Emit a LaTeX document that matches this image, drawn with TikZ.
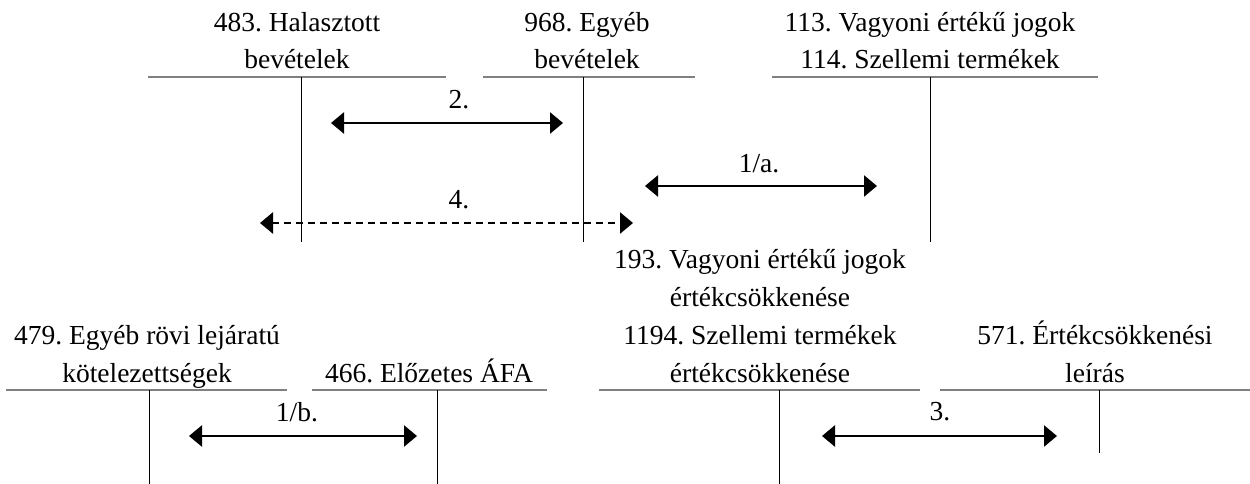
\documentclass[tikz,border=0pt]{standalone}
\usepackage{fontspec}
\setmainfont{Liberation Serif}
\usetikzlibrary{arrows.meta}
\frenchspacing
\begin{document}
\begin{tikzpicture}[x=1pt,y=-1pt,
  title/.style={anchor=base,inner sep=0pt,font=\fontsize{27.5}{30}\selectfont},
  lbl/.style={inner sep=0pt,font=\fontsize{27.5}{30}\selectfont},
  hline/.style={draw=black!50,line width=1.8pt},
  vline/.style={draw=black,line width=0.9pt},
  tip/.style={},
  arr/.style={line width=2.6pt,{Triangle[length=13pt,width=21pt]}-{Triangle[length=13pt,width=21pt]}},
  darr/.style={arr,dash pattern=on 7pt off 5pt}]
\useasboundingbox (0,0) rectangle (1250,484);
% ---------- top row titles ----------
\node[title] (t1a) at (297,32) {483. Halasztott};
\node[title] (t1b) at (297,69) {bevételek};
\node[title] (t2a) at (587,32) {968. Egyéb};
\node[title] (t2b) at (587,69) {bevételek};
\node[title] (t3a) at (930,32) {113. Vagyoni értékű jogok};
\node[title] (t3b) at (930,69) {114. Szellemi termékek};
% ---------- top row T-accounts ----------
\draw[hline] (148,77) -- (446,77);
\draw[vline] (301,77) -- (301,242);
\draw[hline] (483,77) -- (695,77);
\draw[vline] (583,77) -- (583,242);
\draw[hline] (772,77) -- (1098,77);
\draw[vline] (930,77) -- (930,242);
% ---------- bottom row titles ----------
\node[title] (b1a) at (147,344) {479. Egyéb rövi lejáratú};
\node[title] (b1b) at (147,382) {kötelezettségek};
\node[title] (b2a) at (429,382) {466. Előzetes ÁFA};
\node[title] (b3a) at (760,268) {193. Vagyoni értékű jogok};
\node[title] (b3b) at (760,306) {értékcsökkenése};
\node[title] (b3c) at (760,344) {1194. Szellemi termékek};
\node[title] (b3d) at (760,382) {értékcsökkenése};
\node[title] (b4a) at (1095,344) {571. Értékcsökkenési};
\node[title] (b4b) at (1095,382) {leírás};
% ---------- bottom row T-accounts ----------
\draw[hline] (6,390) -- (287,390);
\draw[vline] (149,390) -- (149,484);
\draw[hline] (312,390) -- (547,390);
\draw[vline] (437,390) -- (437,484);
\draw[hline] (599,390) -- (920,390);
\draw[vline] (779,390) -- (779,484);
\draw[hline] (940,390) -- (1250,390);
\draw[vline] (1099,390) -- (1099,453);
% ---------- arrow end points ----------
\coordinate (a2s) at (331,123);  \coordinate (a2e) at (563,123);
\coordinate (a1as) at (645,186); \coordinate (a1ae) at (877,186);
\coordinate (a4s) at (260,223);  \coordinate (a4e) at (633,223);
\coordinate (a1bs) at (189,436); \coordinate (a1be) at (417,436);
\coordinate (a3s) at (822,436);  \coordinate (a3e) at (1057,436);
% ---------- arrows ----------
\draw[arr] (a2s) -- (a2e);
\draw[arr] (a1as) -- (a1ae);
\draw[darr] (a4s) -- (a4e);
\draw[arr] (a1bs) -- (a1be);
\draw[arr] (a3s) -- (a3e);
% ---------- arrow labels ----------
\node[lbl] (l2) at (459,100) {2.};
\node[lbl] (l1a) at (759,164) {1/a.};
\node[lbl] (l4) at (459,200) {4.};
\node[lbl] (l1b) at (297,412) {1/b.};
\node[lbl] (l3) at (940,412) {3.};
\end{tikzpicture}
\end{document}
